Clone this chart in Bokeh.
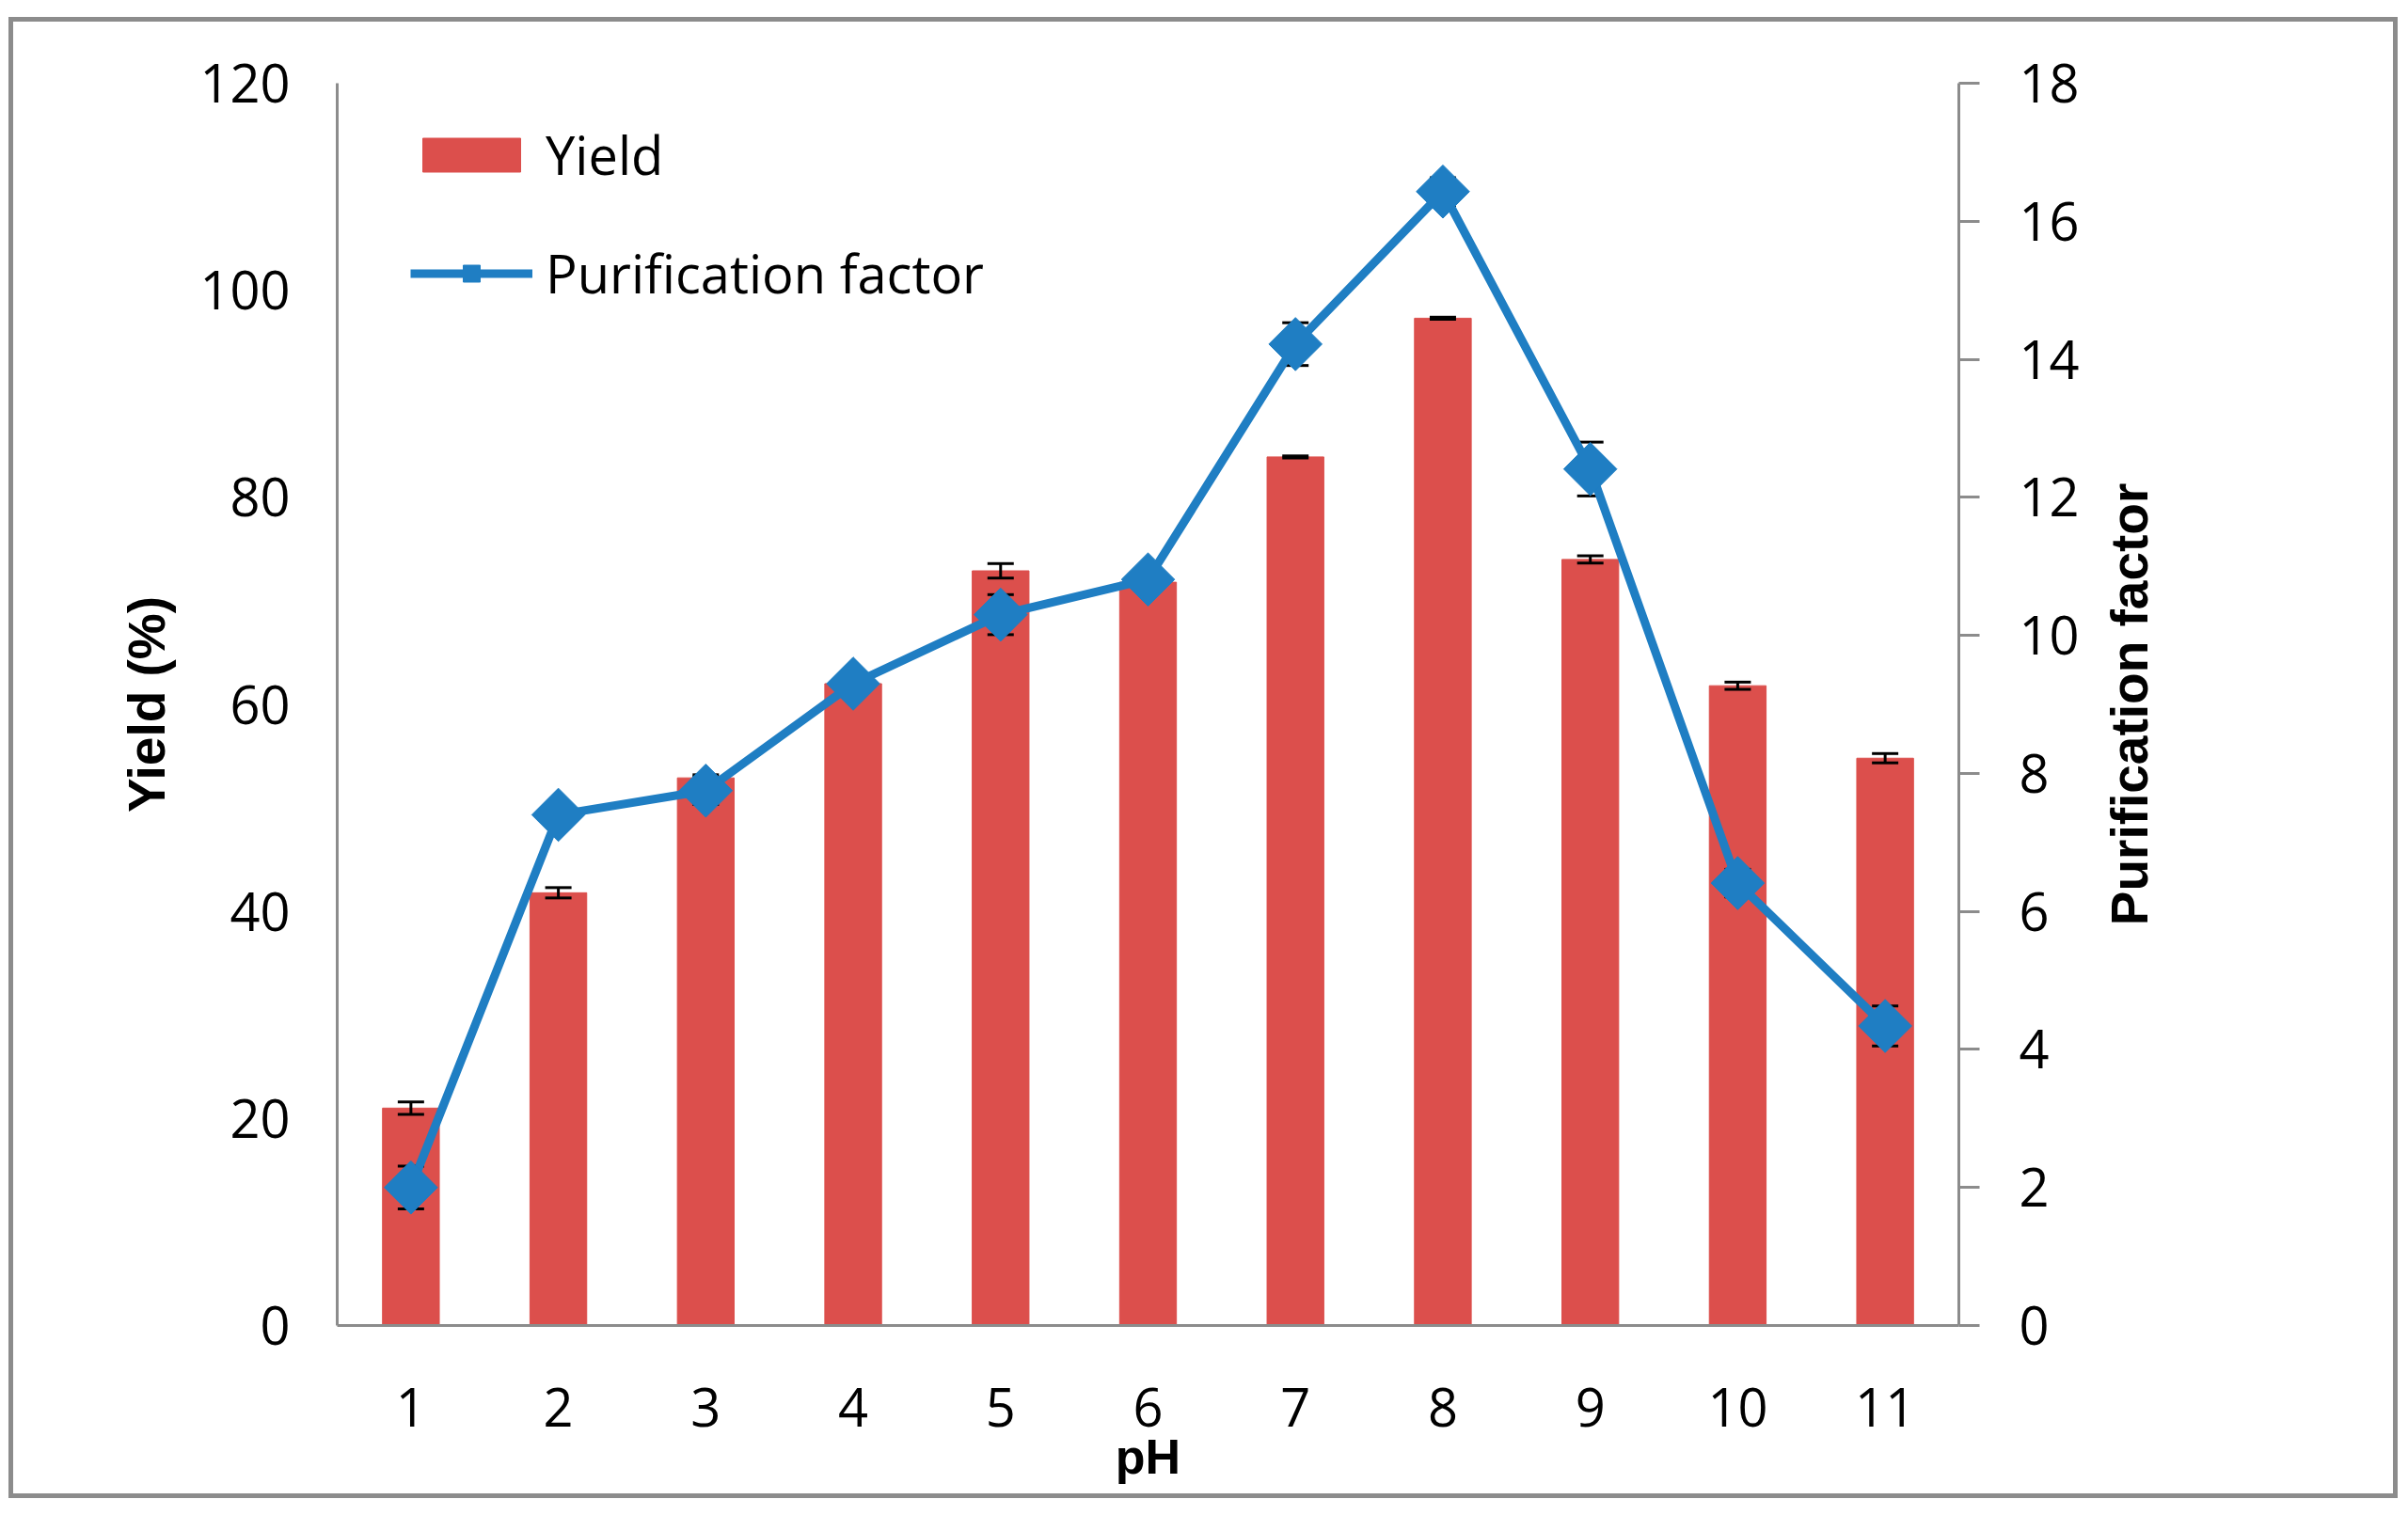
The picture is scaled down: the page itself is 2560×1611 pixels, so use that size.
import math
from bokeh.plotting import figure
from bokeh.layouts import row
from bokeh.models import (Range1d, LinearAxis, FixedTicker, ColumnDataSource, Whisker, TeeHead,
                          Legend, LegendItem)
from bokeh.embed import file_html
from bokeh.resources import INLINE

ph = [1, 2, 3, 4, 5, 6, 7, 8, 9, 10, 11]
yield_pct = [21.0, 41.8, 52.9, 62.0, 72.9, 71.8, 83.9, 97.3, 74.0, 61.8, 54.8]
yield_err = [0.6, 0.5, 0.3, 0.2, 0.7, 0.2, 0.1, 0.1, 0.35, 0.35, 0.45]
pur_factor = [2.0, 7.4, 7.75, 9.3, 10.3, 10.81, 14.22, 16.43, 12.41, 6.41, 4.34]
pur_err = [0.31, 0.1, 0.2, 0.1, 0.29, 0.1, 0.31, 0.2, 0.39, 0.2, 0.29]
yield_ticks = [0, 20, 40, 60, 80, 100, 120]
pf_ticks = [0, 2, 4, 6, 8, 10, 12, 14, 16, 18]

BAR = "#DC4F4C"
LINE = "#1F7EC3"
AXIS = "#8C8C8C"
FONT = "Open Sans"
BOLD = "Liberation Sans"

p = figure(width=2200, height=1565, output_backend="svg", toolbar_location=None,
           x_range=Range1d(0.5, 11.5), y_range=Range1d(0, 120),
           min_border_left=344, min_border_right=132, min_border_top=65, min_border_bottom=179)
p.extra_y_ranges = {"pf": Range1d(0, 18)}
p.xgrid.visible = False
p.ygrid.visible = False
p.outline_line_color = None

src = ColumnDataSource(dict(
    x=ph, y=yield_pct,
    ylo=[v - e for v, e in zip(yield_pct, yield_err)],
    yhi=[v + e for v, e in zip(yield_pct, yield_err)],
    pf=pur_factor,
    pflo=[v - e for v, e in zip(pur_factor, pur_err)],
    pfhi=[v + e for v, e in zip(pur_factor, pur_err)],
))

bars = p.vbar(x="x", top="y", width=0.385, source=src, fill_color=BAR, line_color=BAR,
              line_width=1, level="underlay")

w1 = Whisker(base="x", lower="ylo", upper="yhi", source=src, line_color="black", line_width=3,
             upper_head=TeeHead(size=28, line_width=3, line_color="black"),
             lower_head=TeeHead(size=28, line_width=3, line_color="black"), level="underlay")
p.add_layout(w1)
w2 = Whisker(base="x", lower="pflo", upper="pfhi", source=src, line_color="black", line_width=3,
             y_range_name="pf",
             upper_head=TeeHead(size=28, line_width=3, line_color="black"),
             lower_head=TeeHead(size=28, line_width=3, line_color="black"), level="underlay")
p.add_layout(w2)

ln = p.line(x="x", y="pf", source=src, y_range_name="pf", line_color=LINE, line_width=9)
mk = p.scatter(x="x", y="pf", source=src, y_range_name="pf", marker="square", size=40,
               angle=math.pi / 4, fill_color=LINE, line_color=LINE)

# x axis
xa = p.xaxis[0]
xa.ticker = FixedTicker(ticks=ph)
xa.axis_label = "pH"
xa.axis_line_color = AXIS
xa.axis_line_width = 3
xa.major_tick_line_color = None
xa.minor_tick_line_color = None
xa.major_tick_out = 0
xa.major_label_standoff = 66
xa.major_label_text_font = FONT
xa.major_label_text_font_size = "56px"
xa.major_label_text_color = "black"
xa.axis_label_text_font = BOLD
xa.axis_label_text_font_style = "bold"
xa.axis_label_text_font_size = "52px"
xa.axis_label_text_color = "black"
xa.axis_label_standoff = 0

# left axis
ya = p.yaxis[0]
ya.ticker = FixedTicker(ticks=yield_ticks)
ya.axis_label = "Yield (%)"
ya.axis_line_color = AXIS
ya.axis_line_width = 3
ya.major_tick_line_color = None
ya.minor_tick_line_color = None
ya.major_tick_out = 0
ya.major_label_standoff = 50
ya.major_label_text_font = FONT
ya.major_label_text_font_size = "56px"
ya.major_label_text_color = "black"
ya.axis_label_text_font = BOLD
ya.axis_label_text_font_style = "bold"
ya.axis_label_text_font_size = "55px"
ya.axis_label_text_color = "black"
ya.axis_label_standoff = 22

# right axis (ticks and numbers)
ra = LinearAxis(y_range_name="pf", ticker=FixedTicker(ticks=pf_ticks))
ra.axis_line_color = AXIS
ra.axis_line_width = 3
ra.major_tick_line_color = AXIS
ra.major_tick_line_width = 3
ra.major_tick_in = 0
ra.major_tick_out = 22
ra.minor_tick_line_color = None
ra.major_label_standoff = 42
ra.major_label_text_font = FONT
ra.major_label_text_font_size = "56px"
ra.major_label_text_color = "black"
p.add_layout(ra, "right")

legend = Legend(items=[LegendItem(label="Yield", renderers=[bars]),
                       LegendItem(label="Purification factor", renderers=[ln, mk])],
                location=(78, 1081), orientation="vertical",
                glyph_width=130, glyph_height=45, label_height=34, spacing=50,
                label_standoff=14, padding=10, margin=0,
                label_text_font=FONT, label_text_font_size="56px", label_text_color="black",
                background_fill_alpha=0, border_line_color=None)
p.add_layout(legend, "center")

# right-hand title, read bottom to top, centred on the plot height
p2 = figure(width=330, height=1565, output_backend="svg", toolbar_location=None,
            x_range=Range1d(0, 1), y_range=Range1d(0, 18), x_axis_location=None,
            min_border_left=100, min_border_right=0, min_border_top=65, min_border_bottom=179)
p2.xgrid.visible = False
p2.ygrid.visible = False
p2.outline_line_color = None
ta = p2.yaxis[0]
ta.ticker = FixedTicker(ticks=[])
ta.axis_line_color = None
ta.major_tick_line_color = None
ta.minor_tick_line_color = None
ta.major_label_text_font_size = "0px"
ta.axis_label = "Purification factor"
ta.axis_label_text_font = BOLD
ta.axis_label_text_font_style = "bold"
ta.axis_label_text_font_size = "55px"
ta.axis_label_text_color = "black"
ta.axis_label_standoff = 20

layout = row(p, p2, spacing=0, width=2540, height=1575, sizing_mode="fixed",
             styles={"border": "5px solid #8C8C8C", "translate": "9px 18px"})

open("out.html", "w").write(file_html(layout, INLINE))
